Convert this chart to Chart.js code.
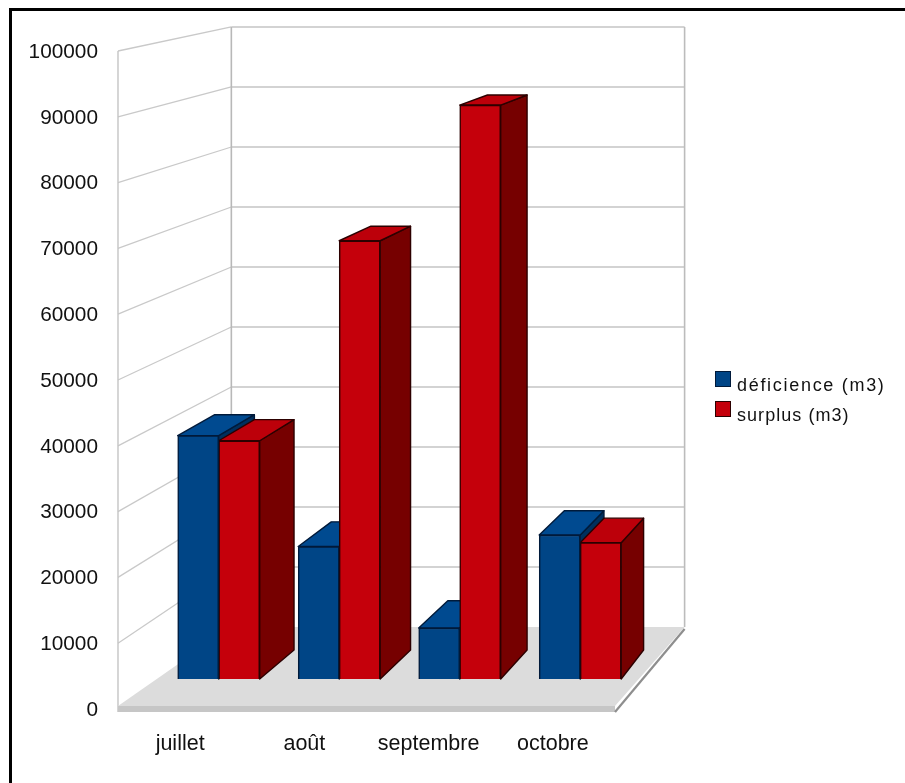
<!DOCTYPE html>
<html lang="fr">
<head>
<meta charset="utf-8">
<title>déficience et surplus</title>
<script src="https://cdn.jsdelivr.net/npm/chart.js@4/dist/chart.umd.min.js"></script>
<style>
  html, body { margin: 0; padding: 0; background: #fff; }
  #box { width: 905px; height: 783px; }
</style>
</head>
<body>
<div id="box"><canvas id="chart" width="905" height="783"></canvas></div>
<script>
const months = ["juillet", "août", "septembre", "octobre"];
const deficience = [38200, 20800, 8000, 22600];
const surplus = [37400, 68800, 90100, 21400];
const seriesNames = ["déficience (m3)", "surplus (m3)"];
const yMax = 100000;
const yStep = 10000;

const FONT = '"Liberation Sans", Arial, sans-serif';
const legendTracking = ["1.7px", "1.05px"];

// Front plane of the box and its vanishing point
const wall = { depth: 0.088, vx: 1406, vy: -222 };
const block = { depth: 0.033, vx: 1300, vy: -200 };
const recede = (p, x, y) => [x + p.depth * (p.vx - x), y + p.depth * (p.vy - y)];

// The bars stand inside the box, so they use their own scales:
// zero sits 30px above the front edge, one unit is 0.00637px, one month 120.5px.
const areaTop = 51, areaBottom = 709, areaLeft = 118, areaRight = 615;
const barZero = 679, barPxPerUnit = 0.00637;
const groupLeft = 218.7, groupStep = 120.5;

function poly(ctx, pts, fill, stroke, lw) {
  ctx.beginPath();
  pts.forEach((p, i) => i ? ctx.lineTo(p[0], p[1]) : ctx.moveTo(p[0], p[1]));
  ctx.closePath();
  if (fill) { ctx.fillStyle = fill; ctx.fill(); }
  if (stroke) { ctx.strokeStyle = stroke; ctx.lineWidth = lw; ctx.lineJoin = "round"; ctx.stroke(); }
}

function line(ctx, a, b, color, lw) {
  ctx.beginPath();
  ctx.moveTo(a[0], a[1]);
  ctx.lineTo(b[0], b[1]);
  ctx.strokeStyle = color;
  ctx.lineWidth = lw;
  ctx.stroke();
}

const boxPlugin = {
  id: "box3d",
  beforeDatasetsDraw(chart) {
    const { ctx, scales: { y } } = chart;
    const L = areaLeft, R = areaRight;
    ctx.save();

    // Page frame
    ctx.fillStyle = "#000";
    ctx.fillRect(9, 8, chart.width - 9, 3);
    ctx.fillRect(9, 8, 3, chart.height - 8);

    const backBottomL = recede(wall, L, y.getPixelForValue(0));
    const backBottomR = recede(wall, R, y.getPixelForValue(0));
    const backTopL = recede(wall, L, y.getPixelForValue(yMax));
    const backTopR = recede(wall, R, y.getPixelForValue(yMax));

    // Grid on the side wall and the back wall
    for (let v = yStep; v <= yMax; v += yStep) {
      const front = [L, y.getPixelForValue(v)];
      const back = recede(wall, L, front[1]);
      line(ctx, front, back, "#c9c9c9", 1.3);
      line(ctx, back, recede(wall, R, front[1]), "#c4c4c4", 1.6);
    }
    line(ctx, [L, y.getPixelForValue(yMax)], [L, areaBottom + 3], "#c4c4c4", 1.4);
    line(ctx, backTopL, backBottomL, "#b8b8b8", 1.6);
    line(ctx, backTopR, backBottomR, "#bcbcbc", 1.6);

    // Floor slab: top surface, front strip, right edge
    const y0 = y.getPixelForValue(0);
    poly(ctx, [[L, y0 - 3], backBottomL, backBottomR, [R, y0 - 3]], "#dcdcdc");
    poly(ctx, [[L, y0 - 3], [R, y0 - 3], [R, y0 + 3], [L, y0 + 3]], "#c6c6c6");
    line(ctx, [R, y0 + 3], [backBottomR[0], backBottomR[1] + 2], "#8e8e8e", 2.2);

    // Side and top of each bar. The first series goes down first, so the second
    // series' top and the library's front faces land on top of it.
    chart.data.datasets.forEach((ds, index) => {
      chart.getDatasetMeta(index).data.forEach(bar => {
        const { x, y: top, base, width } = bar.getProps(["x", "y", "base", "width"], true);
        const l = x - width / 2, r = x + width / 2;
        const br = recede(block, r, base), tr = recede(block, r, top), tl = recede(block, l, top);
        poly(ctx, [[r, base], br, tr, [r, top]], ds.sideColor, ds.borderColor, 1.4);
        poly(ctx, [[l, top], tl, tr, [r, top]], ds.topColor, ds.borderColor, 1.4);
      });
    });
    ctx.restore();
  },
  // Legend to the right of the box
  afterDraw(chart) {
    const { ctx } = chart;
    ctx.save();
    ctx.font = "18px " + FONT;
    ctx.textBaseline = "alphabetic";
    ctx.textAlign = "left";
    chart.data.datasets.forEach((ds, i) => {
      const top = 372 + i * 30;
      ctx.fillStyle = ds.backgroundColor;
      ctx.strokeStyle = ds.borderColor;
      ctx.lineWidth = 1;
      ctx.fillRect(716, top, 14, 14);
      ctx.strokeRect(715.5, top - 0.5, 15, 15);
      ctx.fillStyle = "#111";
      if ("letterSpacing" in ctx) ctx.letterSpacing = legendTracking[i];
      ctx.fillText(ds.label, 737, top + 19);
    });
    ctx.restore();
  }
};

new Chart(document.getElementById("chart"), {
  type: "bar",
  plugins: [boxPlugin],
  data: {
    labels: months,
    datasets: [
      {
        label: seriesNames[0],
        data: deficience.map((v, i) => ({ x: i, y: v })),
        backgroundColor: "#004586",
        sideColor: "#00305e",
        topColor: "#004a90",
        borderColor: "#001a3a",
        borderWidth: 1.5,
        clip: false,
        xAxisID: "xBars",
        yAxisID: "yBars"
      },
      {
        label: seriesNames[1],
        data: surplus.map((v, i) => ({ x: i, y: v })),
        backgroundColor: "#c5000b",
        sideColor: "#760000",
        topColor: "#bc000a",
        borderColor: "#2c0000",
        borderWidth: 1.5,
        clip: false,
        xAxisID: "xBars",
        yAxisID: "yBars"
      }
    ]
  },
  options: {
    responsive: false,
    animation: false,
    layout: { padding: { left: 0, top: areaTop, right: 905 - areaRight, bottom: 0 } },
    plugins: { legend: { display: false }, tooltip: { enabled: false } },
    datasets: { bar: { barThickness: 41 } },
    scales: {
      x: {
        type: "category",
        labels: months,
        position: "bottom",
        grid: { display: false },
        border: { display: false },
        ticks: { color: "#111", font: { family: FONT, size: 21.5 }, padding: 14, maxRotation: 0, autoSkip: false },
        afterFit: s => { s.height = 783 - areaBottom; }
      },
      y: {
        type: "linear",
        position: "left",
        min: 0,
        max: yMax,
        grid: { display: false },
        border: { display: false },
        ticks: { stepSize: yStep, color: "#111", font: { family: FONT, size: 20.8 }, padding: 12, labelOffset: 1, callback: v => String(v) },
        afterFit: s => { s.width = areaLeft; }
      },
      xBars: {
        type: "linear",
        display: false,
        offset: false,
        min: (areaLeft - groupLeft) / groupStep,
        max: (areaRight - groupLeft) / groupStep
      },
      yBars: {
        type: "linear",
        display: false,
        min: -(areaBottom - barZero) / barPxPerUnit,
        max: (barZero - areaTop) / barPxPerUnit
      }
    }
  }
});
</script>
</body>
</html>
